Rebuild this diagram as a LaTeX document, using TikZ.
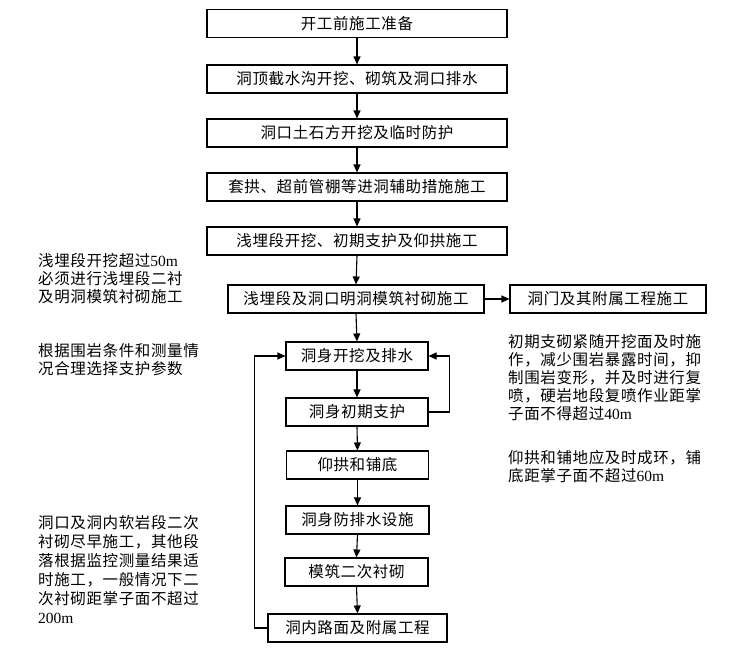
\documentclass[tikz,border=0pt]{standalone}
\usepackage{fontspec}
\setmainfont{Liberation Serif}
\newfontfamily\cjk[LetterSpace=4]{Noto Sans CJK SC}
\newfontfamily\latinf{Liberation Serif}
\newcommand\lt[1]{{\latinf #1}}
\usetikzlibrary{arrows.meta}
\begin{document}
\begin{tikzpicture}[x=1pt,y=-1pt,
  font=\cjk\fontsize{15.5}{18}\selectfont,
  box/.style={draw,line width=1.1pt,minimum height=28pt,inner sep=0pt,anchor=center},
  note/.style={align=left,inner sep=0pt,anchor=west},
  arr/.style={line width=1.1pt,-{Triangle[length=8pt,width=7pt]}},
  ln/.style={line width=1.1pt}]
\useasboundingbox (0,0) rectangle (731,653);
\node[box,minimum width=300pt] (b1) at (357,23.5) {开工前施工准备};
\node[box,minimum width=300pt] (b2) at (357,79) {洞顶截水沟开挖、砌筑及洞口排水};
\node[box,minimum width=300pt] (b3) at (357,133) {洞口土石方开挖及临时防护};
\node[box,minimum width=300pt] (b4) at (357,187) {套拱、超前管棚等进洞辅助措施施工};
\node[box,minimum width=300pt] (b5) at (357,241) {浅埋段开挖、初期支护及仰拱施工};
\node[box,minimum width=256pt] (b6) at (356,299) {浅埋段及洞口明洞模筑衬砌施工};
\node[box,minimum width=196pt] (b7) at (608,299) {洞门及其附属工程施工};
\node[box,minimum width=142pt] (b8) at (357,356) {洞身开挖及排水};
\node[box,minimum width=142pt] (b9) at (357,412) {洞身初期支护};
\node[box,minimum width=142pt] (b10) at (357.5,465) {仰拱和铺底};
\node[box,minimum width=143pt] (b11) at (357.5,520) {洞身防排水设施};
\node[box,minimum width=143pt] (b12) at (356.5,572) {模筑二次衬砌};
\node[box,minimum width=179pt] (b13) at (357.5,628) {洞内路面及附属工程};

\foreach \a/\b in {b1/b2,b2/b3,b3/b4,b4/b5,b5/b6,b6/b8,b8/b9,b9/b10,b10/b11,b11/b12,b12/b13}
  \draw[arr] (\a.south) -- (\b.north);
\draw[arr] (b6.east) -- (b7.west);
\draw[arr] (b9.east) -- ++(21,0) |- (b8.east);
\draw[arr] (b13.west) -- ++(-13,0) |- (b8.west);

\node[note] (n1) at (38,278.7) {浅埋段开挖超过\lt{50m}\\必须进行浅埋段二衬\\及明洞模筑衬砌施工};
\node[note] (n2) at (38,359.5) {根据围岩条件和测量情\\况合理选择支护参数};
\node[note,font=\cjk\fontsize{15.5}{19}\selectfont] (n3) at (38,569.5) {洞口及洞内软岩段二次\\衬砌尽早施工，其他段\\落根据监控测量结果适\\时施工，一般情况下二\\次衬砌距掌子面不超过\\\lt{200m}};
\node[note] (n4) at (508,378) {初期支砌紧随开挖面及时施\\作，减少围岩暴露时间，抑\\制围岩变形，并及时进行复\\喷，硬岩地段复喷作业距掌\\子面不得超过\lt{40m}};
\node[note] (n5) at (508,466.4) {仰拱和铺地应及时成环，铺\\底距掌子面不超过\lt{60m}};
\end{tikzpicture}
\end{document}
